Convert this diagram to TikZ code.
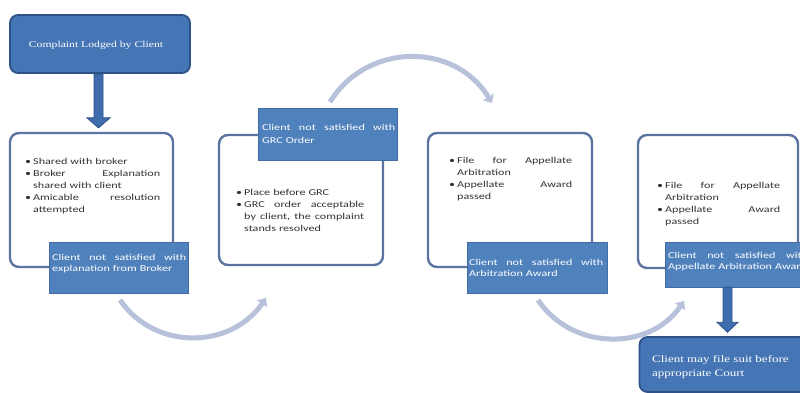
\documentclass[tikz,border=0pt]{standalone}
\usepackage{fontspec}
\setmainfont{Liberation Serif}[FakeStretch=1.3]
\setsansfont{Carlito}[FakeStretch=1.35]
\usetikzlibrary{arrows.meta,calc}
\definecolor{darkfill}{HTML}{4675B5}
\definecolor{darkborder}{HTML}{2E5287}
\definecolor{labfill}{HTML}{4F81BD}
\definecolor{labborder}{HTML}{416CA3}
\definecolor{wborder}{HTML}{5A73A0}
\definecolor{arccol}{HTML}{B7C2DA}
\definecolor{arrfill}{HTML}{3F6CAD}
\definecolor{arrborder}{HTML}{2C5089}
\definecolor{bodycol}{HTML}{333333}
\newcommand{\bl}{\makebox[8pt][l]{\textbullet}}
\newcommand{\ind}{\hspace*{8pt}}
\begin{document}
\begin{tikzpicture}[x=1pt,y=-1pt,
  darkbox/.style={draw=darkborder,fill=darkfill,line width=1.8pt,rounded corners=8pt,inner sep=0pt},
  wbox/.style={draw=wborder,fill=white,line width=2.4pt,rounded corners=9pt,inner sep=0pt},
  lbox/.style={draw=labborder,fill=labfill,line width=0.5pt,inner sep=0pt},
  bodytxt/.style={font=\sffamily\fontsize{9}{12}\selectfont,text=bodycol,align=left,inner sep=0pt,anchor=north west},
  labtxt/.style={font=\sffamily\fontsize{9}{11.5}\selectfont,text=white,align=left,inner sep=0pt,anchor=north west},
  arcarrow/.style={draw=arccol,line width=5pt,-{Triangle[length=7pt,width=12pt]}},
  blockarr/.style={draw=arrborder,fill=arrfill,line width=0.8pt,line join=miter}
]
\useasboundingbox (0,0) rectangle (800,393);
\clip (0,0) rectangle (800,393);
\fill[white] (0,0) rectangle (800,393);

% top box
\node[darkbox,minimum width=180pt,minimum height=58pt] (top) at (100,44) {};
\node[font=\rmfamily\fontsize{9}{11}\selectfont,text=white,inner sep=0pt] (toptxt) at (96,45) {Complaint Lodged by Client};

% white boxes
\node[wbox,minimum width=163pt,minimum height=134pt] (box1) at (91.5,200) {};
\node[wbox,minimum width=164pt,minimum height=130pt] (box2) at (301,200) {};
\node[wbox,minimum width=164pt,minimum height=134pt] (box3) at (510,200) {};
\node[wbox,minimum width=160pt,minimum height=133pt] (box4) at (718,201.5) {};

% body texts
\node[bodytxt,text width=135pt] (t1) at (25,158) {\bl Shared with broker\\
\bl Broker\hfill Explanation\\
\ind shared with client\\
\bl Amicable\hfill resolution\\
\ind attempted};
\node[bodytxt,text width=128pt] (t2) at (236,189) {\bl Place before GRC\\
\bl GRC\hfill order\hfill acceptable\\
\ind by\hfill client,\hfill the\hfill complaint\\
\ind stands resolved};
\node[bodytxt,text width=123pt] (t3) at (449,157) {\bl File\hfill for\hfill Appellate\\
\ind Arbitration\\
\bl Appellate\hfill Award\\
\ind passed};
\node[bodytxt,text width=123pt] (t4) at (657,182) {\bl File\hfill for\hfill Appellate\\
\ind Arbitration\\
\bl Appellate\hfill Award\\
\ind passed};

% label boxes
\node[lbox,minimum width=139pt,minimum height=51pt] (lab1) at (118.5,267.5) {};
\node[lbox,minimum width=139pt,minimum height=52pt] (lab2) at (327.5,134) {};
\node[lbox,minimum width=140pt,minimum height=51pt] (lab3) at (537,267.5) {};
\node[lbox,minimum width=140pt,minimum height=45pt] (lab4) at (735,264.5) {};

\node[labtxt,text width=134pt] (l1) at (52,254) {Client\hfill not\hfill satisfied\hfill with\\explanation from Broker};
\node[labtxt,text width=133pt,font=\sffamily\fontsize{9}{13}\selectfont] (l2) at (262,124) {Client\hfill not\hfill satisfied\hfill with\\GRC Order};
\node[labtxt,text width=134pt] (l3) at (469,259) {Client\hfill not\hfill satisfied\hfill with\\Arbitration Award};
\node[labtxt,text width=140pt] (l4) at (668,252) {Client\hfill not\hfill satisfied\hfill with\\Appellate Arbitration Award};

% bottom box
\node[darkbox,minimum width=175pt,minimum height=55pt] (bot) at (727,364.5) {};
\node[font=\rmfamily\fontsize{10}{14}\selectfont,text=white,align=left,inner sep=0pt,anchor=north west] (bottxt) at (652,355) {Client may file suit before\\appropriate Court};

% block arrows
\coordinate (ar1) at ([xshift=-1.5pt]top.south);
\draw[blockarr] ($(ar1)+(-4.5,0)$) -- ++(0,44) -- ++(-7,0) -- ++(11.5,10) -- ++(11.5,-10) -- ++(-7,0) -- ++(0,-44) -- cycle;
\coordinate (ar2) at ([xshift=-7.5pt]lab4.south);
\draw[blockarr] ($(ar2)+(-4.5,0)$) -- ++(0,35) -- ++(-6,0) -- ++(10.5,10) -- ++(10.5,-10) -- ++(-6,0) -- ++(0,-35) -- cycle;

% curved arrows
\coordinate (a1s) at (120,300);
\coordinate (a1e) at (266,298);
\coordinate (a2s) at (330,102);
\coordinate (a2e) at (492,103);
\coordinate (a3s) at (538,300);
\coordinate (a3e) at (684,301);
\draw[arcarrow] (a1s) .. controls (155,351) and (231,349) .. (a1e);
\draw[arcarrow] (a2s) .. controls (367,42) and (455,42) .. (a2e);
\draw[arcarrow] (a3s) .. controls (572,351) and (650,351) .. (a3e);
\end{tikzpicture}
\end{document}
